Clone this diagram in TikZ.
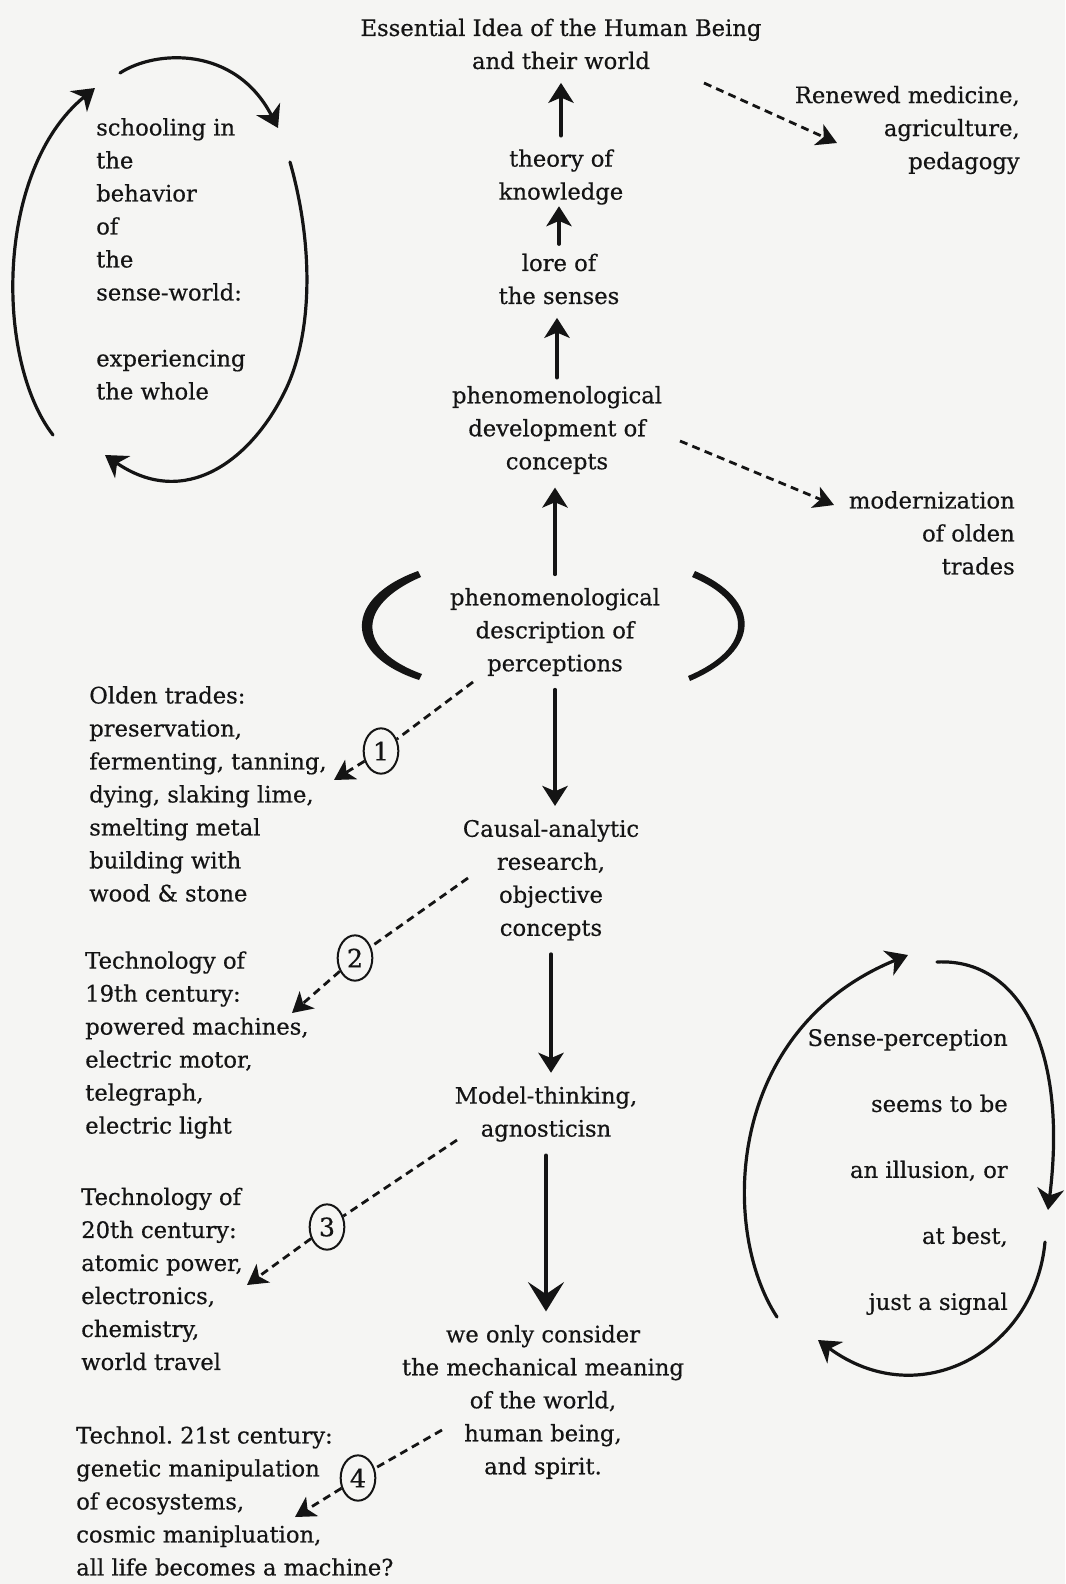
\documentclass[tikz,border=0pt]{standalone}
\usepackage{fontspec}
\setmainfont{DejaVu Serif}[FakeBold=0.5]
\usepackage{tikz}
\usetikzlibrary{arrows.meta}
\usetikzlibrary{shapes.geometric}

\definecolor{paper}{RGB}{245,245,243}
\definecolor{ink}{RGB}{20,20,20}

\tikzset{
  lbl/.style={inner sep=0pt, text=ink, font=\fontsize{17}{24.75}\selectfont},
  mainarrow/.style={draw=ink, line width=2.6pt, line cap=round, -{Stealth[length=15pt,width=19pt,inset=4pt]}, shorten <=10pt, shorten >=10pt},
  bigarrow/.style={mainarrow, -{Stealth[length=22pt,width=27pt,inset=9pt]}},
  dashline/.style={draw=ink, line width=2.1pt, dash pattern=on 6pt off 4pt},
  dasharrow/.style={dashline, -{Stealth[length=15pt,width=17pt,inset=4pt]}},
  loopline/.style={draw=ink, line width=2.4pt, line cap=round, -{Stealth[length=16pt,width=20pt,inset=5pt]}},
  numring/.style={ellipse, draw=ink, line width=1.5pt, minimum width=26pt, minimum height=34pt, inner sep=0pt, text=ink, font=\fontsize{19}{20}\selectfont},
}

\begin{document}
\begin{tikzpicture}[x=0.75pt,y=0.75pt,yscale=-1,xscale=1]
\useasboundingbox (0,0) rectangle (1065,1584);
\fill [paper] (0,0) rectangle (1065,1584);

%Text Node: middle column
\draw (561,44) node [lbl, align=center] (idea) {Essential Idea of the Human Being\\and their world};
\draw (561,177) node [lbl, align=center] (theory) {theory of\\knowledge};
\draw (559,279) node [lbl, align=center] (lore) {lore of\\the senses};
\draw (557,430) node [lbl, align=center] (devel) {phenomenological\\development of\\concepts};
\draw (555,632) node [lbl, align=center] (descr) {phenomenological\\description of\\perceptions};
\draw (551,880) node [lbl, align=center] (causal) {Causal-analytic\\research,\\objective\\concepts};
\draw (546,1114) node [lbl, align=center] (model) {Model-thinking,\\agnosticisn};
\draw (543,1402) node [lbl, align=center] (weonly) {we only consider\\the mechanical meaning\\of the world,\\human being,\\and spirit.};

%Text Node: right column
\draw (1020,130) node [lbl, anchor=east, align=right] (renewed) {Renewed medicine,\\agriculture,\\pedagogy};
\draw (1015,533) node [lbl, anchor=east, align=right] (modern) {modernization\\of olden\\trades};
\draw (1008,1172) node [lbl, anchor=east, align=right] (sense) {Sense-perception\\[24.75pt]seems to be\\[24.75pt]an illusion, or\\[24.75pt]at best,\\[24.75pt]just a signal};

%Text Node: left column
\draw (96,259) node [lbl, anchor=west, align=left] (school) {schooling in\\the\\behavior\\of\\the\\sense-world:\\[24.75pt]experiencing\\the whole};
\draw (89,794) node [lbl, anchor=west, align=left] (olden) {Olden trades:\\preservation,\\fermenting, tanning,\\dying, slaking lime,\\smelting metal\\building with\\wood \& stone};
\draw (85,1045) node [lbl, anchor=west, align=left] (techA) {Technology of\\19th century:\\powered machines,\\electric motor,\\telegraph,\\electric light};
\draw (81,1279) node [lbl, anchor=west, align=left] (techB) {Technology of\\20th century:\\atomic power,\\electronics,\\chemistry,\\world travel};
\draw (76,1501) node [lbl, anchor=west, align=left] (techC) {Technol.\ 21st century:\\genetic manipulation\\of ecosystems,\\cosmic manipluation,\\all life becomes a machine?};

%Shape: Ellipse (numbers)
\draw (381,751) node [numring] (ringA) {1};
\draw (355,958) node [numring] (ringB) {2};
\draw (327,1227) node [numring] (ringC) {3};
\draw (358,1478) node [numring] (ringD) {4};

%Straight Lines: main chain
\draw [mainarrow] (theory.north) -- (theory.north |- idea.south);
\draw [mainarrow, shorten <=7pt, shorten >=1pt] (lore.north) -- (lore.north |- theory.south);
\draw [mainarrow, shorten <=6pt] (devel.north) -- (devel.north |- lore.south);
\draw [mainarrow] (descr.north) -- (descr.north |- devel.south);
\draw [mainarrow] (descr.south) -- (descr.south |- causal.north);
\draw [mainarrow] (causal.south) -- (causal.south |- model.north);
\draw [bigarrow] (model.south) -- (model.south |- weonly.north);

%Straight Lines: dashed
\coordinate (ideaout) at (704,83);
\coordinate (renewedin) at (837,143);
\coordinate (develout) at (680,441);
\coordinate (modernin) at (834,505);
\draw [dasharrow] (ideaout) -- (renewedin);
\draw [dasharrow] (develout) -- (modernin);

\coordinate (descrout) at (473,682);
\coordinate (oldenin) at (334,780);
\draw [dashline] (descrout) -- (ringA);
\draw [dasharrow] (ringA) -- (oldenin);

\coordinate (causalout) at (468,878);
\coordinate (techAin) at (292,1013);
\draw [dashline] (causalout) -- (ringB);
\draw [dasharrow] (ringB) -- (techAin);

\coordinate (modelout) at (457,1140);
\coordinate (techBin) at (247,1285);
\draw [dashline] (modelout) -- (ringC);
\draw [dasharrow] (ringC) -- (techBin);

\coordinate (weonlyout) at (442,1430);
\coordinate (techCin) at (295,1517);
\draw [dashline] (weonlyout) -- (ringD);
\draw [dasharrow] (ringD) -- (techCin);

%Shape: brackets
\fill [ink] (418,571) .. controls (343,598) and (343,655) .. (419,680) -- (422,674) .. controls (356,650) and (356,605) .. (421,577) -- cycle;
\fill [ink] (695,571) .. controls (762,600) and (762,650) .. (690,681) -- (688,676) .. controls (754,648) and (754,603) .. (692,577) -- cycle;

%Curve Lines: left loop
\draw [loopline] (53,435) .. controls (-5,360) and (-5,170) .. (95,88);
\draw [loopline] (120,73) .. controls (155,50) and (235,45) .. (278,128);
\draw [loopline] (290,162) .. controls (315,250) and (312,340) .. (283,395) .. controls (250,460) and (185,510) .. (105,455);

%Curve Lines: right loop
\draw [loopline] (777,1317) .. controls (720,1230) and (725,1030) .. (908,955);
\draw [loopline] (937,962) .. controls (1020,958) and (1068,1050) .. (1048,1210);
\draw [loopline] (1045,1242) .. controls (1035,1350) and (920,1415) .. (818,1340);

\end{tikzpicture}
\end{document}
